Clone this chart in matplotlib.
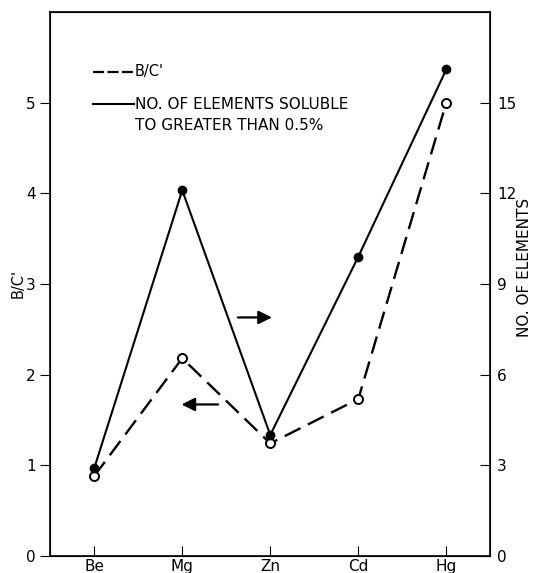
import numpy as np
import matplotlib
matplotlib.use("Agg")
import matplotlib.pyplot as plt

plt.rcParams['font.family'] = ['DejaVu Sans']

metals = ["Be", "Mg", "Zn", "Cd", "Hg"]
bc_ratio = [0.88, 2.18, 1.24, 1.73, 5.0]        # B/C' (left axis)
n_soluble = [2.9, 12.1, 4.0, 9.9, 16.1]          # no. of elements (right axis)

x = np.arange(1, len(metals) + 1)

fig = plt.figure(figsize=(5.46, 5.73), dpi=100)
ax = fig.add_axes([0.092, 0.030, 0.806, 0.949])
ax2 = ax.twinx()

ax.plot(x, bc_ratio, color="black", lw=1.7, dashes=(7.5, 3.5), marker="o",
        ms=6.5, mfc="white", mec="black", mew=1.4, zorder=3)
ax2.plot(x, n_soluble, color="black", lw=1.5, marker="o", ms=6,
         mfc="black", mec="black", zorder=2)

ax.set_xlim(0.5, 5.5)
ax.set_ylim(0, 6)
ax2.set_ylim(0, 18)
ax.set_xticks(x)
ax.set_xticklabels(metals, fontsize=11)
ax.set_yticks([0, 1, 2, 3, 4, 5])
ax2.set_yticks([0, 3, 6, 9, 12, 15])
ax.tick_params(axis="x", direction="in", length=7, pad=2)
ax.tick_params(axis="y", direction="out", length=7, labelsize=11)
ax2.tick_params(axis="y", direction="in", length=7, labelsize=11, pad=5)
for s in ax.spines.values():
    s.set_linewidth(1.2)

ax.set_ylabel("B/C'", fontsize=10.5, labelpad=0)
ax2.set_ylabel("NO. OF ELEMENTS", fontsize=11)
ax2.yaxis.set_label_coords(1.06, 0.53)

# arrows pointing to each axis
ax.annotate("", xy=(3.05, 2.63), xytext=(2.6, 2.63),
            arrowprops=dict(arrowstyle="-|>", color="black", lw=1.6,
                            mutation_scale=20))
ax.annotate("", xy=(1.96, 1.67), xytext=(2.44, 1.67),
            arrowprops=dict(arrowstyle="-|>", color="black", lw=1.6,
                            mutation_scale=20))

# legend drawn as in the original
ax.plot([0.99, 1.45], [5.34, 5.34], color="black", lw=1.6, dashes=(5, 1.5))
ax.text(1.46, 5.34, "B/C'", fontsize=10.5, va="center")
ax.plot([0.99, 1.45], [4.98, 4.98], color="black", lw=1.5)
ax.text(1.46, 4.98, "NO. OF ELEMENTS SOLUBLE", fontsize=11, va="center")
ax.text(1.46, 4.75, "TO GREATER THAN 0.5%", fontsize=11, va="center")

fig.savefig("out.png", dpi=100)
